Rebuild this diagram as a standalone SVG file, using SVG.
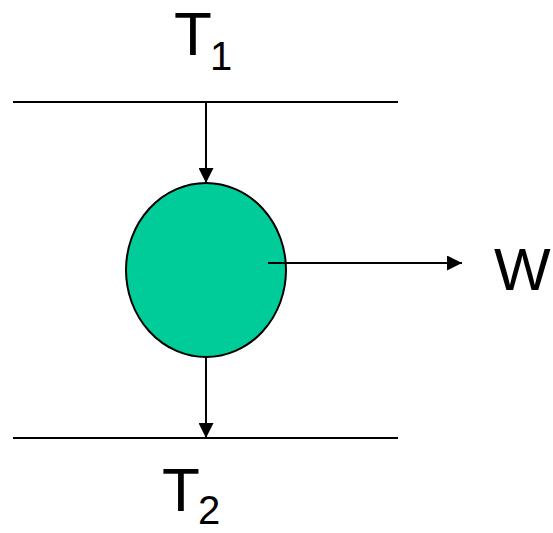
<svg xmlns="http://www.w3.org/2000/svg" width="553" height="533" viewBox="0 0 553 533">
<style>
.ln{stroke:#000;stroke-width:2;fill:none}
.big{font-family:"Liberation Sans",Arial,sans-serif;font-size:62px;fill:#000}
.sub{font-family:"Liberation Sans",Arial,sans-serif;font-size:40px;fill:#000}
</style>
<defs>
<marker id="ah" viewBox="0 0 10 10" refX="10" refY="5" markerWidth="15" markerHeight="15" markerUnits="userSpaceOnUse" orient="auto">
<path d="M0,0 L10,5 L0,10 Z" fill="#000"/>
</marker>
</defs>
<g id="reservoir-top">
<line class="ln" x1="13" y1="102" x2="398" y2="102"/>
<text class="big" x="174" y="55">T</text><text class="sub" x="210" y="70">1</text>
</g>
<g id="reservoir-bottom">
<line class="ln" x1="13" y1="438" x2="398" y2="438"/>
<text class="big" x="162" y="511">T</text><text class="sub" x="198" y="524">2</text>
</g>
<g id="engine">
<ellipse cx="206" cy="270" rx="80" ry="87" fill="#00CC99" stroke="#000" stroke-width="2"/>
</g>
<g id="work">
<text class="big" x="494" y="290" style="font-size:60px">W</text>
</g>
<g id="connectors">
<line class="ln" x1="206" y1="102" x2="206" y2="183" marker-end="url(#ah)"/>
<line class="ln" x1="206" y1="357" x2="206" y2="438" marker-end="url(#ah)"/>
<line class="ln" x1="268" y1="263" x2="462" y2="263" marker-end="url(#ah)"/>
</g>
</svg>
